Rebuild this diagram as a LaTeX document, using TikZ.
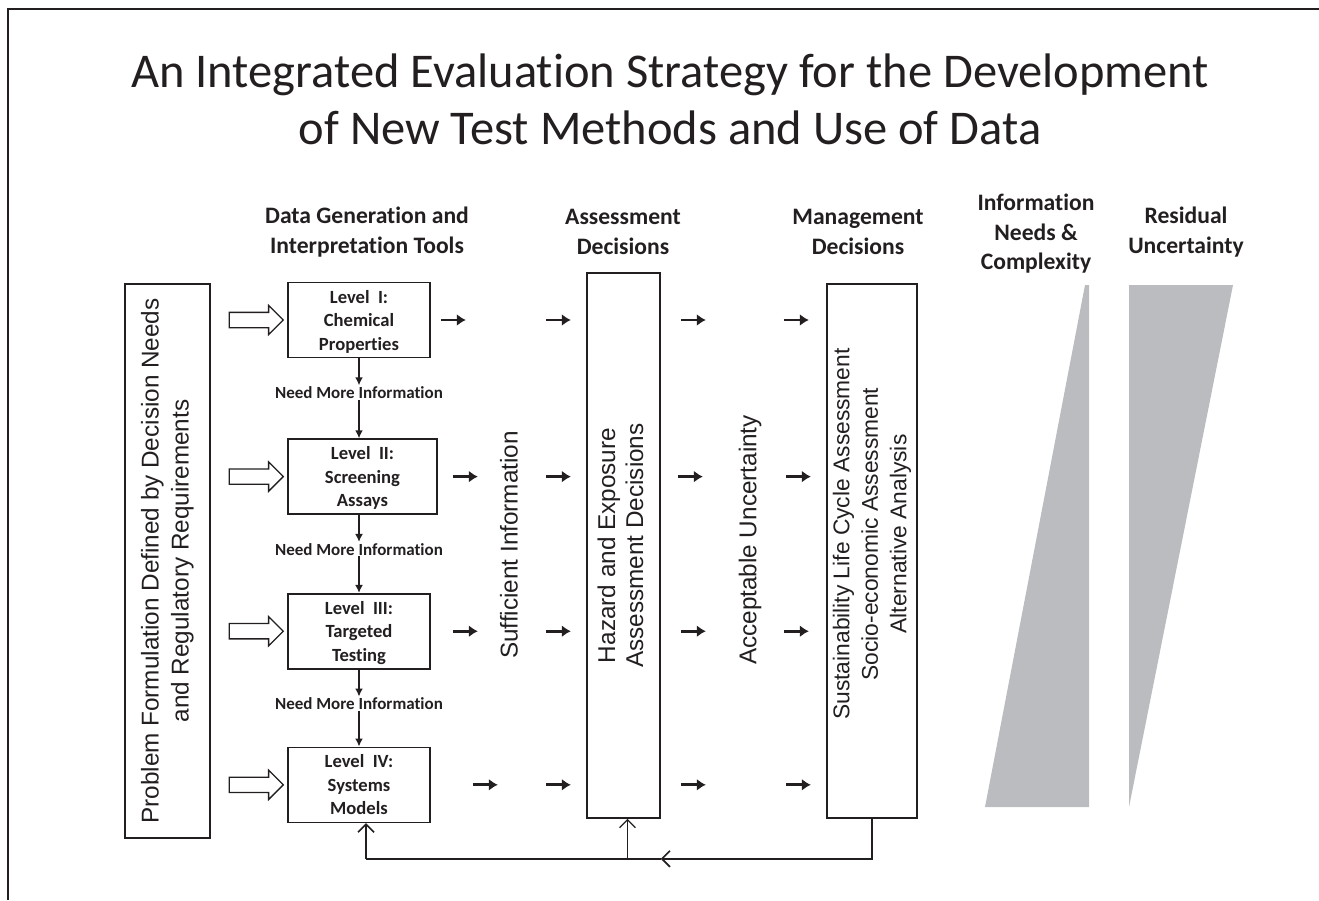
\documentclass[tikz,border=0pt]{standalone}
\usepackage{fontspec}
\setmainfont{Carlito}[Ligatures=NoCommon]
\newfontfamily\arialfont{Liberation Sans}
\usetikzlibrary{
  positioning,
  arrows.meta,
  shapes.arrows}
\definecolor{ink}{HTML}{231F20}
\definecolor{wedgegrey}{HTML}{BBBCC0}
\tikzset{
     strategy/.style={%pixel grid, y downwards
        x=1pt, y=-1pt,
        every node/.style={text=ink},
        draw=ink},
     levbox/.style={draw, line width=1.6pt, align=center, inner sep=0pt,
        minimum width=142pt, minimum height=75pt, text depth=-4pt,
        font=\bfseries\fontsize{18.6}{23.5}\selectfont},
     tallbox/.style={draw, line width=1.6pt, inner sep=0pt,
        font=\arialfont\fontsize{24.3}{28}\selectfont},
     vtext/.style={rotate=90, align=center, inner sep=0pt,
        font=\arialfont\fontsize{24.3}{28}\selectfont},
     head/.style={align=center, font=\bfseries\fontsize{23.6}{29.5}\selectfont},
     need/.style={font=\bfseries\fontsize{17}{18}\selectfont, inner sep=1pt},
     hollow/.style={single arrow, draw, line width=1.3pt, inner sep=7pt,
        minimum height=54pt, single arrow head extend=7pt},
     down/.style={line width=1.6pt, -{Latex[length=8pt,width=8pt]}},
     go/.style={line width=2.8pt, -{Latex[length=9pt,width=12pt]}},
     fb/.style={line width=1.6pt, -{Straight Barb[length=8pt,width=16pt]}},
     wedge/.style={fill=wedgegrey, draw=none}
  }
\newcommand{\vlines}[1]{\rotatebox{90}{\begin{tabular}{@{}c@{}}#1\end{tabular}}}

\begin{document}
\begin{tikzpicture}[strategy]
  \useasboundingbox (0,0) rectangle (1319,900);
  \draw[line width=1.4pt] (8,900) -- (8,9) -- (1319,9);
  \node[align=center, font=\fontsize{48.5}{57}\selectfont] (title) at (670,99)
    {An Integrated Evaluation Strategy for the Development\\of New Test Methods and Use of Data};
%
  \node[head] (hdata) at (367,232) {Data Generation and\\Interpretation Tools};
  \node[head] (hassess) at (623,232) {Assessment\\Decisions};
  \node[head] (hmgmt) at (858,232) {Management\\Decisions};
  \node[head] (hinfo) at (1036,234) {Information\\Needs \&\\Complexity};
  \node[head] (hresid) at (1186,232) {Residual\\Uncertainty};
%
  \node[tallbox, minimum width=85pt, minimum height=554pt, font=\arialfont\fontsize{24.3}{30}\selectfont]
    (problem) at (167.5,561)
    {\vlines{Problem Formulation Defined by Decision Needs\\and Regulatory Requirements}};
  \node[levbox] (lev1) at (359,320) {Level\ \ I:\\Chemical\\Properties};
  \node[levbox, minimum width=149pt, below=80pt of lev1.south west, anchor=north west] (lev2)
    {Level\ \ II:\\Screening\\Assays};
  \node[levbox, below=78pt of lev2.south west, anchor=north west] (lev3)
    {Level\ \ III:\\Targeted\\Testing};
  \node[levbox, below=77pt of lev3.south west, anchor=north west] (lev4)
    {Level\ \ IV:\\Systems\\Models};
  \foreach \l in {lev1,lev2,lev3,lev4}
    \node[hollow, left=3pt of \l] (in\l) {};
%
  \node[need, below=27pt of lev1] (need1) {Need More Information};
  \node[need, below=27pt of lev1 |- lev2.south] (need2) {Need More Information};
  \node[need, below=27pt of lev1 |- lev3.south] (need3) {Need More Information};
  \draw[down] (lev1) -- (need1);
  \draw[down] (need1) -- (need1 |- lev2.north);
  \draw[down] (need1 |- lev2.south) -- (need2);
  \draw[down] (need2) -- (need2 |- lev3.north);
  \draw[down] (need2 |- lev3.south) -- (need3);
  \draw[down] (need3) -- (need3 |- lev4.north);
%
  \node[vtext] (suff) at (509,545) {Sufficient Information};
  \node[tallbox, minimum width=73pt, minimum height=545pt] (assess) at (623.5,545.5)
    {\vlines{Hazard and Exposure\\Assessment Decisions}};
  \node[vtext] (accept) at (750,540) {Acceptable Uncertainty};
  \node[tallbox, minimum width=90pt, minimum height=534pt] (mgmt) at (872,551) {};
  \node[vtext, font=\arialfont\fontsize{22.8}{28.5}\selectfont] (mgmttext) at ([yshift=17pt]mgmt.center)
    {Sustainability Life Cycle Assessment\\Socio-economic Assessment\\Alternative Analysis};
%
  \foreach \l/\a/\b/\c/\d in {lev1/10/115/250/353, lev2/15/108/240/348,
                              lev3/22/115/250/353, lev4/42/115/250/355}
    \foreach \s in {\a,\b,\c,\d}
      \draw[go] ([xshift=\s pt]\l.east) -- ++(25,0);
%
  \coordinate (fbr) at ([yshift=-40pt]mgmt.south);
  \coordinate (fbl) at ([xshift=7pt]lev4.south |- fbr);
  \draw[fb] (mgmt.south) -- (fbr) -- (fbr -| assess.east);
  \draw[line width=1.6pt] (fbr -| assess.east) -- (fbl);
  \draw[fb] (fbl) -- ([xshift=7pt]lev4.south);
  \draw[fb, line width=1.3pt] ([xshift=4pt]assess.south |- fbr) -- ([xshift=4pt]assess.south);
%
  \fill[wedge] (1085,285) -- (1089,285) -- (1089,807) -- (985,807) -- cycle;
  \fill[wedge] (1129,285) -- (1233,285) -- (1129,807) -- cycle;
\end{tikzpicture}
\end{document}
